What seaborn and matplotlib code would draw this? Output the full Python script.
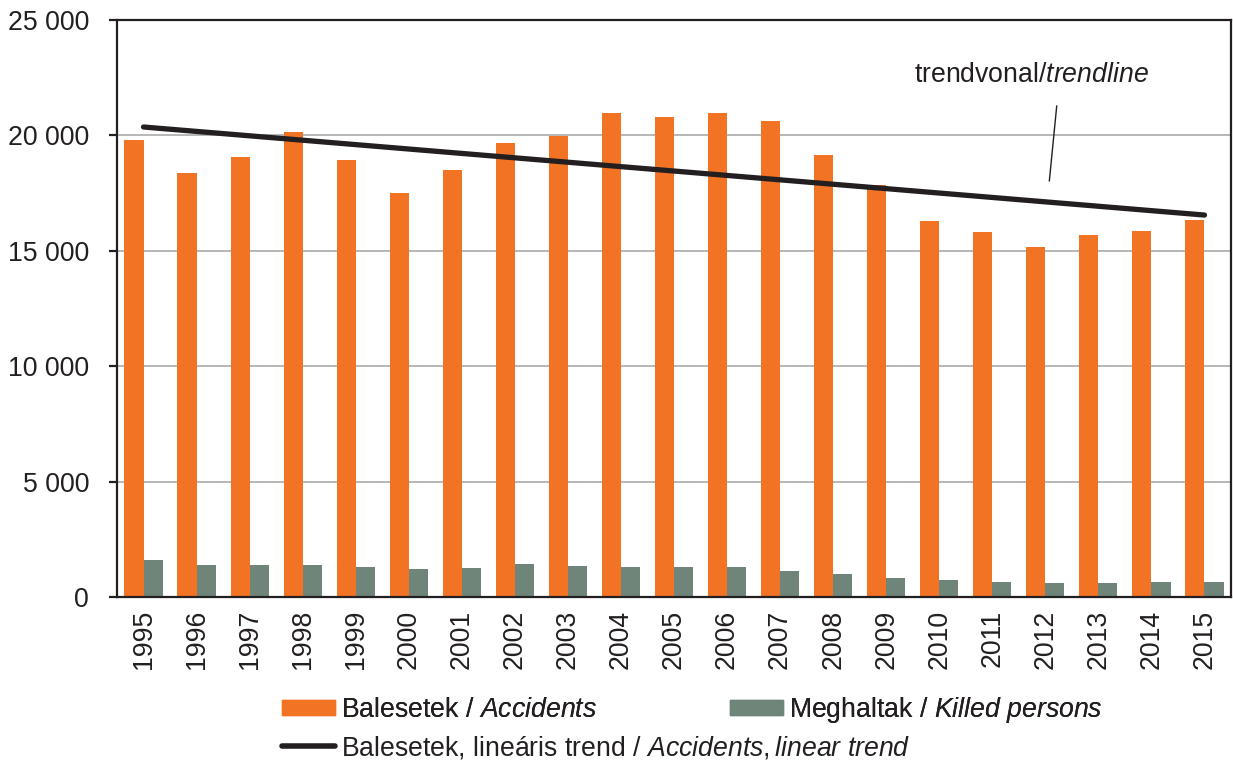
import numpy as np
import pandas as pd
import matplotlib
matplotlib.use("Agg")
import matplotlib.pyplot as plt
from matplotlib.patches import Patch
from matplotlib.lines import Line2D
from matplotlib.ticker import FuncFormatter, FixedLocator
import seaborn as sns

years = [str(y) for y in range(1995, 2016)]
accidents = [19820, 18390, 19070, 20150, 18920, 17490, 18500, 19690, 19980, 20960,
             20780, 20980, 20640, 19170, 17860, 16310, 15830, 15170, 15690, 15850, 16330]
killed = [1590, 1370, 1390, 1370, 1310, 1200, 1240, 1430, 1330, 1300,
          1280, 1300, 1120, 1000, 820, 740, 640, 605, 590, 630, 645]

lbl_acc = r"Balesetek / $\mathit{Accidents}$"
lbl_kill = r"Meghaltak / $\mathit{Killed\ persons}$"
lbl_trend = r"Balesetek, lineáris trend / $\mathit{Accidents,linear\ trend}$"

orange = "#F37325"
grey = "#70857A"
ink = "#231F20"
fs = 19.2

sns.set_style("white")
plt.rcParams["font.family"] = ["Liberation Sans", "DejaVu Sans"]
plt.rcParams["mathtext.fontset"] = "custom"
plt.rcParams["mathtext.rm"] = "Liberation Sans"
plt.rcParams["mathtext.it"] = "Liberation Sans:italic"
plt.rcParams["font.size"] = fs
plt.rcParams["text.color"] = ink

df = pd.DataFrame({"year": years * 2,
                   "value": accidents + killed,
                   "series": ["acc"] * len(years) + ["kill"] * len(years)})

fig = plt.figure(figsize=(12.33, 7.62), dpi=100)
ax = fig.add_axes([117 / 1233, 1 - 597 / 762, (1231 - 117) / 1233, (597 - 20) / 762])

sns.barplot(data=df, x="year", y="value", hue="series", order=years,
            palette={"acc": orange, "kill": grey}, width=0.72, saturation=1,
            linewidth=0, legend=False, ax=ax, zorder=2)

# linear trend of accidents
xs = np.arange(len(years))
k, b = np.polyfit(xs, accidents, 1)
sns.lineplot(x=xs, y=k * xs + b, color=ink, linewidth=3.8, ax=ax,
             solid_capstyle="round", zorder=3)

ax.set_xlim(-0.5, len(years) - 0.5)
ax.set_ylim(0, 25000)
ax.set_yticks(range(0, 25001, 5000))
ax.yaxis.set_major_formatter(FuncFormatter(lambda v, p: f"{int(v):,}".replace(",", " ")))
ax.yaxis.grid(True, color="#A3A3A3", linewidth=1.1, zorder=0)
ax.set_axisbelow(True)
ax.set_xlabel("")
ax.set_ylabel("")

ax.set_xticks(xs)
ax.set_xticklabels(years, rotation=90)
ax.xaxis.set_minor_locator(FixedLocator(np.arange(-0.5, len(years), 1)))
ax.tick_params(axis="x", which="major", length=0, pad=9, labelsize=fs, colors=ink)
ax.tick_params(axis="x", which="minor", length=6, width=1.6, color=ink, direction="out")
ax.tick_params(axis="y", length=6, width=1.6, color=ink, pad=14, labelsize=fs,
               labelcolor=ink, direction="out", left=True)
for s in ax.spines.values():
    s.set_visible(True)
    s.set_color(ink)
    s.set_linewidth(1.6)

ax.annotate("", xy=(17.07, 17900), xytext=(17.22, 21400),
            arrowprops=dict(arrowstyle="-", color=ink, lw=1))
ax.text(16.73, 22600, r"trendvonal/$\mathit{trendline}$", ha="center", va="center",
        fontsize=fs, color=ink)

leg1 = fig.legend(handles=[Patch(color=orange, label=lbl_acc), Patch(color=grey, label=lbl_kill)],
                  ncol=2, loc="center left", bbox_to_anchor=(282 / 1233, 1 - 710 / 762),
                  frameon=False, borderpad=0, borderaxespad=0, handlelength=2.0,
                  handleheight=0.5, handletextpad=0.2, columnspacing=5.0, fontsize=fs)
fig.legend(handles=[Line2D([], [], color=ink, linewidth=4, label=lbl_trend)],
           loc="center left", bbox_to_anchor=(282 / 1233, 1 - 748 / 762),
           frameon=False, borderpad=0, borderaxespad=0, handlelength=2.0,
           handletextpad=0.2, fontsize=fs)
fig.add_artist(leg1)

fig.savefig("out.png", dpi=100)
